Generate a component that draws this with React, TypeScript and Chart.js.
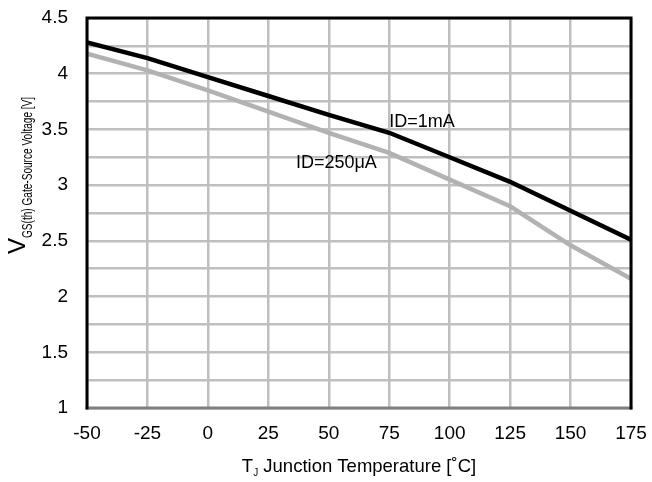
import React, { useEffect, useRef } from "react";
import { Chart, registerables } from "chart.js";

Chart.register(...registerables);

// Junction temperature (°C)
const temperatures = [-50, -25, 0, 25, 50, 75, 100, 125, 150, 175];
// Threshold voltage at ID = 1 mA (V)
const vth1mA = [4.28, 4.14, 3.97, 3.8, 3.63, 3.47, 3.25, 3.03, 2.77, 2.51];
// Threshold voltage at ID = 250 µA (V)
const vth250uA = [4.18, 4.03, 3.85, 3.66, 3.47, 3.29, 3.05, 2.81, 2.46, 2.16];

// Curve labels: text, temperature and voltage of the label's left-middle point
const curveLabels = [
  { text: "ID=1mA", x: 75, y: 3.57 },
  { text: "ID=250\u03bcA", x: 36.4, y: 3.2 },
];

const FONT = "'Liberation Sans', Arial, sans-serif";
const W = 652;
const H = 482;

const framePlugin = {
  id: "frameAndTitles",
  afterDraw(chart: any) {
    const { ctx, chartArea } = chart;
    const { left, right, top, bottom } = chartArea;
    const xs = chart.scales.x;
    const ys = chart.scales.y;
    ctx.save();

    // plot frame: dark grey base, black top and sides
    ctx.lineCap = "square";
    ctx.lineWidth = 3;
    ctx.strokeStyle = "#7f7f7f";
    ctx.beginPath();
    ctx.moveTo(left, bottom);
    ctx.lineTo(right, bottom);
    ctx.stroke();
    ctx.strokeStyle = "#000";
    ctx.beginPath();
    ctx.moveTo(left, bottom);
    ctx.lineTo(left, top);
    ctx.lineTo(right, top);
    ctx.lineTo(right, bottom);
    ctx.stroke();

    // curve labels
    ctx.fillStyle = "#000";
    ctx.font = `18px ${FONT}`;
    ctx.textAlign = "left";
    ctx.textBaseline = "middle";
    for (const l of curveLabels) {
      ctx.fillText(l.text, xs.getPixelForValue(l.x), ys.getPixelForValue(l.y));
    }

    // x axis title: T_J Junction Temperature [˚C]
    ctx.textBaseline = "alphabetic";
    const xParts = [
      { t: "T", f: `18.5px ${FONT}`, dy: 0 },
      { t: "J", f: `10px ${FONT}`, dy: 4 },
      { t: " Junction Temperature [\u02daC]", f: `18.5px ${FONT}`, dy: 0 },
    ];
    let total = 0;
    for (const p of xParts) {
      ctx.font = p.f;
      total += ctx.measureText(p.t).width;
    }
    let cx = (left + right) / 2 - total / 2;
    const xBase = bottom + 64;
    for (const p of xParts) {
      ctx.font = p.f;
      ctx.fillText(p.t, cx, xBase + p.dy);
      cx += ctx.measureText(p.t).width;
    }

    // y axis title: V_GS(th) Gate-Source Voltage [V], subscript part set narrow
    ctx.translate(25, 254);
    ctx.rotate(-Math.PI / 2);
    ctx.font = `24px ${FONT}`;
    ctx.fillText("V", 0, 0);
    const vw = ctx.measureText("V").width;
    ctx.translate(vw, 7);
    ctx.scale(0.65, 1);
    ctx.font = `15.5px ${FONT}`;
    ctx.fillText("GS(th) Gate-Source Voltage [V]", 0, 0);
    ctx.restore();
  },
};

export default function App() {
  const canvasRef = useRef<HTMLCanvasElement | null>(null);

  useEffect(() => {
    const canvas = canvasRef.current;
    if (!canvas) return;
    const chart = new Chart(canvas, {
      type: "line",
      data: {
        datasets: [
          {
            label: "ID=1mA",
            data: temperatures.map((t, i) => ({ x: t, y: vth1mA[i] })),
            borderColor: "#000000",
            borderWidth: 4.5,
            pointRadius: 0,
            tension: 0,
          },
          {
            label: "ID=250uA",
            data: temperatures.map((t, i) => ({ x: t, y: vth250uA[i] })),
            borderColor: "#b2b2b2",
            borderWidth: 4.5,
            pointRadius: 0,
            tension: 0,
          },
        ],
      },
      options: {
        responsive: false,
        animation: false,
        events: [],
        layout: { padding: { top: 18, right: 21, left: 0, bottom: 0 } },
        plugins: {
          legend: { display: false },
          tooltip: { enabled: false },
        },
        scales: {
          x: {
            type: "linear",
            min: -50,
            max: 175,
            border: { display: false },
            grid: { color: "#bfbfbf", lineWidth: 2.5, drawTicks: false },
            ticks: {
              stepSize: 25,
              padding: 14,
              color: "#000",
              font: { family: FONT, size: 19 },
              maxRotation: 0,
            },
            afterFit(scale: any) {
              scale.height = 74;
              scale.paddingLeft = 0;
              scale.paddingRight = 0;
            },
          },
          y: {
            type: "linear",
            min: 1,
            max: 4.5,
            border: { display: false },
            grid: { color: "#bfbfbf", lineWidth: 2.5, drawTicks: false },
            ticks: {
              stepSize: 0.25,
              padding: 19,
              color: "#000",
              font: { family: FONT, size: 19 },
              callback: (v: any) => (Math.abs((v * 2) % 1) < 1e-9 ? String(v) : ""),
            },
            afterFit(scale: any) {
              scale.width = 87;
              scale.paddingTop = 0;
              scale.paddingBottom = 0;
            },
          },
        },
      },
      plugins: [framePlugin],
    });
    return () => chart.destroy();
  }, []);

  return (
    <div style={{ position: "fixed", left: 0, top: 0, width: W, height: H, background: "#fff" }}>
      <canvas ref={canvasRef} width={W} height={H} style={{ display: "block" }} />
    </div>
  );
}
